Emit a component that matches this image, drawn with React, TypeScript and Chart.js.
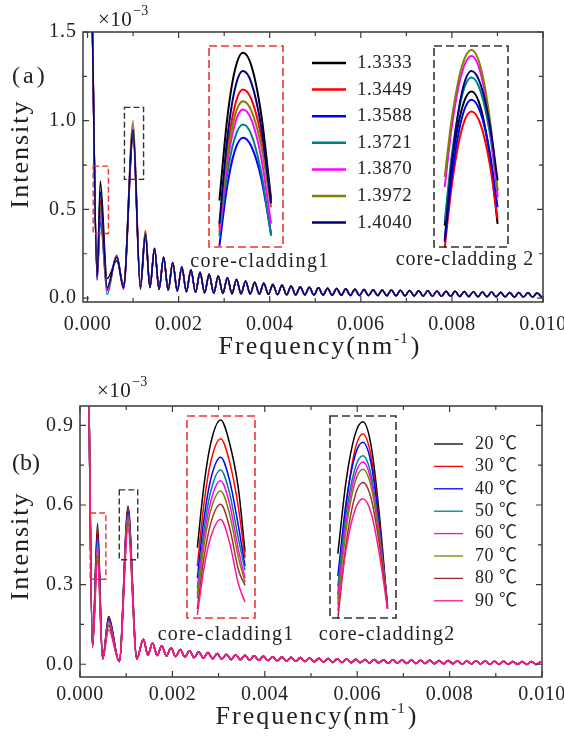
import React, { useEffect, useRef } from 'react';
import { Chart, registerables } from 'chart.js';
Chart.register(...registerables);

const SERIF = "'Liberation Serif', 'Times New Roman', serif";
const SERIF_CJK = "'Liberation Serif', 'Noto Sans CJK SC', serif";
const INK = '#222222';

// ---------------- Panel (a): refractive index ----------------
const riLabels = ['1.3333', '1.3449', '1.3588', '1.3721', '1.3870', '1.3972', '1.4040'];
const riColors = ['#000000', '#ff0000', '#0000ff', '#008080', '#ff00ff', '#808000', '#000080'];

const headFreqA = [0.0001, 0.00021, 0.00028, 0.00043, 0.00064, 0.00079, 0.001, 0.00116, 0.00127];
const headIntensityA = [
  [1.62, 0.13, 0.66, 0.11, 0.21, 0.08, 0.93, 0.05, 0.35], // 1.3333
  [1.62, 0.12, 0.55, 0.05, 0.23, 0.05, 0.90, 0.06, 0.36], // 1.3449
  [1.62, 0.10, 0.43, 0.05, 0.24, 0.06, 0.92, 0.07, 0.37], // 1.3588
  [1.62, 0.11, 0.47, 0.02, 0.24, 0.06, 0.94, 0.07, 0.37], // 1.3721
  [1.62, 0.11, 0.50, 0.04, 0.235, 0.06, 0.98, 0.07, 0.38], // 1.3870
  [1.62, 0.12, 0.52, 0.06, 0.23, 0.07, 1.00, 0.06, 0.38], // 1.3972
  [1.62, 0.12, 0.60, 0.06, 0.23, 0.06, 0.95, 0.06, 0.36], // 1.4040
];

const tailFreq = [
  0.00137, 0.00147, 0.00157, 0.00167, 0.00177, 0.00187, 0.00197, 0.00207, 0.00217, 0.00227,
  0.00237, 0.00247, 0.00257, 0.00267, 0.00277, 0.00287, 0.00297, 0.00307, 0.00317, 0.00327,
  0.00337, 0.00347, 0.00357, 0.00367, 0.00377, 0.00387, 0.00397, 0.00407, 0.00417, 0.00427,
  0.00437, 0.00447, 0.00457, 0.00467, 0.00477, 0.00487, 0.00497, 0.00507, 0.00517, 0.00527,
  0.00537, 0.00547, 0.00557, 0.00567, 0.00577, 0.00587, 0.00597, 0.00607, 0.00617, 0.00627,
  0.00637, 0.00647, 0.00657, 0.00667, 0.00677, 0.00687, 0.00697, 0.00707, 0.00717, 0.00727,
  0.00737, 0.00747, 0.00757, 0.00767, 0.00777, 0.00787, 0.00797, 0.00807, 0.00817, 0.00827,
  0.00837, 0.00847, 0.00857, 0.00867, 0.00877, 0.00887, 0.00897, 0.00907, 0.00917, 0.00927,
  0.00937, 0.00947, 0.00957, 0.00967, 0.00977, 0.00987, 0.00997,
];
const tailIntensityA = [
  0.06, 0.28, 0.05, 0.23, 0.045, 0.20, 0.04, 0.175, 0.036, 0.16, 0.033, 0.145, 0.03, 0.135, 0.028, 0.125, 0.026, 0.115, 0.025, 0.105,
  0.024, 0.097, 0.023, 0.09, 0.022, 0.083, 0.021, 0.077, 0.02, 0.072, 0.019, 0.068, 0.018, 0.064, 0.018, 0.061, 0.017, 0.058, 0.017, 0.056,
  0.016, 0.054, 0.016, 0.052, 0.015, 0.05, 0.015, 0.048, 0.014, 0.047, 0.014, 0.046, 0.013, 0.045, 0.013, 0.044, 0.012, 0.043, 0.012, 0.042,
  0.011, 0.041, 0.011, 0.04, 0.01, 0.039, 0.01, 0.038, 0.009, 0.037, 0.009, 0.036, 0.008, 0.035, 0.008, 0.034, 0.007, 0.033, 0.007, 0.032,
  0.006, 0.031, 0.006, 0.03, 0.006, 0.029, 0.005,
];

// insets of panel (a): values relative to the inset frame (0 = bottom, 1 = top)
const insetA1X = [0.15, 0.25, 0.35, 0.46, 0.57, 0.70, 0.83];
const insetA1Y = [
  [0.234, 0.628, 0.870, 0.962, 0.899, 0.659, 0.242],
  [0.10, 0.468, 0.695, 0.781, 0.733, 0.550, 0.233],
  [0.01, 0.298, 0.476, 0.543, 0.501, 0.344, 0.07],
  [0.06, 0.356, 0.539, 0.608, 0.559, 0.373, 0.06],
  [0.08, 0.406, 0.606, 0.682, 0.633, 0.445, 0.12],
  [0.11, 0.442, 0.646, 0.723, 0.677, 0.503, 0.20],
  [0.12, 0.527, 0.777, 0.872, 0.815, 0.597, 0.22],
];
const insetA2X = [0.154, 0.25, 0.38, 0.507, 0.63, 0.75, 0.85];
const insetA2Y = [
  [0.11, 0.421, 0.686, 0.771, 0.687, 0.445, 0.119],
  [0.0, 0.316, 0.585, 0.672, 0.604, 0.407, 0.143],
  [0.03, 0.359, 0.640, 0.730, 0.662, 0.465, 0.20],
  [0.13, 0.464, 0.748, 0.840, 0.768, 0.560, 0.28],
  [0.30, 0.604, 0.863, 0.946, 0.856, 0.598, 0.25],
  [0.35, 0.644, 0.894, 0.975, 0.886, 0.629, 0.283],
  [0.04, 0.431, 0.765, 0.872, 0.802, 0.602, 0.333],
];

// ---------------- Panel (b): temperature ----------------
const tempLabels = ['20 ℃', '30 ℃', '40 ℃', '50 ℃', '60 ℃', '70 ℃', '80 ℃', '90 ℃'];
const tempColors = ['#000000', '#ff0000', '#0000ff', '#008080', '#ff00ff', '#808000', '#993333', '#ff1493'];

const headFreqB = [0.00019, 0.00027, 0.00038, 0.00049, 0.00062, 0.00085, 0.00104, 0.00123];
const headIntensityB = [
  [1.05, 0.065, 0.53, 0.02, 0.18, 0.01, 0.595, 0.02],
  [1.05, 0.065, 0.51, 0.02, 0.175, 0.01, 0.585, 0.02],
  [1.05, 0.065, 0.49, 0.02, 0.17, 0.01, 0.575, 0.02],
  [1.05, 0.065, 0.47, 0.02, 0.165, 0.01, 0.565, 0.02],
  [1.05, 0.065, 0.45, 0.02, 0.16, 0.01, 0.555, 0.02],
  [1.05, 0.065, 0.43, 0.02, 0.15, 0.01, 0.545, 0.02],
  [1.05, 0.065, 0.41, 0.02, 0.145, 0.01, 0.53, 0.02],
  [1.05, 0.065, 0.39, 0.02, 0.13, 0.01, 0.51, 0.02],
];
const tailIntensityB = [
  0.094, 0.035, 0.08, 0.033, 0.07, 0.031, 0.062, 0.029, 0.056, 0.027, 0.051, 0.025, 0.047, 0.023, 0.044, 0.021, 0.041, 0.019, 0.038, 0.018,
  0.036, 0.017, 0.034, 0.016, 0.032, 0.015, 0.03, 0.014, 0.028, 0.013, 0.027, 0.012, 0.026, 0.011, 0.025, 0.01, 0.024, 0.009, 0.023, 0.008,
  0.022, 0.007, 0.021, 0.007, 0.02, 0.006, 0.019, 0.006, 0.018, 0.005, 0.018, 0.005, 0.017, 0.004, 0.017, 0.004, 0.016, 0.003, 0.016, 0.003,
  0.015, 0.003, 0.015, 0.002, 0.014, 0.002, 0.014, 0.002, 0.013, 0.001, 0.013, 0.001, 0.012, 0.001, 0.012, 0.0, 0.011, 0.0, 0.011, 0.0,
  0.01, 0.0, 0.01, -0.001, 0.01, -0.001, 0.009,
];

const insetB1X = [0.162, 0.25, 0.35, 0.495, 0.62, 0.75, 0.843];
const insetB1Y = [
  [0.35, 0.637, 0.856, 0.975, 0.865, 0.635, 0.33],
  [0.26, 0.546, 0.765, 0.884, 0.774, 0.544, 0.30],
  [0.20, 0.472, 0.680, 0.793, 0.683, 0.453, 0.26],
  [0.15, 0.417, 0.621, 0.731, 0.621, 0.391, 0.24],
  [0.12, 0.376, 0.572, 0.678, 0.568, 0.338, 0.20],
  [0.10, 0.342, 0.528, 0.628, 0.518, 0.300, 0.18],
  [0.05, 0.285, 0.465, 0.562, 0.452, 0.240, 0.165],
  [0.02, 0.235, 0.398, 0.488, 0.378, 0.170, 0.083],
];
const insetB2X = [0.13, 0.25, 0.38, 0.498, 0.62, 0.74, 0.86];
const insetB2Y = [
  [0.32, 0.673, 0.900, 0.967, 0.849, 0.513, 0.06],
  [0.12, 0.550, 0.826, 0.907, 0.796, 0.478, 0.05],
  [0.21, 0.568, 0.798, 0.866, 0.761, 0.463, 0.06],
  [0.16, 0.510, 0.734, 0.800, 0.704, 0.430, 0.06],
  [0.10, 0.466, 0.701, 0.770, 0.676, 0.410, 0.05],
  [0.07, 0.433, 0.666, 0.734, 0.648, 0.402, 0.07],
  [0.00, 0.365, 0.600, 0.669, 0.591, 0.369, 0.07],
  [0.04, 0.340, 0.533, 0.590, 0.520, 0.320, 0.05],
];

// ---------------- Axes ----------------
const xMajorTicks = [0, 0.002, 0.004, 0.006, 0.008, 0.01];
const xMinorTicks = [0.001, 0.003, 0.005, 0.007, 0.009];
const xTickLabels = ['0.000', '0.002', '0.004', '0.006', '0.008', '0.010'];
const yMajorA = [0, 0.5, 1.0, 1.5];
const yMinorA = [0.25, 0.75, 1.25];
const yLabelsA = ['0.0', '0.5', '1.0', '1.5'];
const yMajorB = [0, 0.3, 0.6, 0.9];
const yMinorB = [0.15, 0.45, 0.75];
const yLabelsB = ['0.0', '0.3', '0.6', '0.9'];

// zoom regions marked in the main plots (data coordinates)
const zoomBoxesA = [
  { x0: 0.000123, x1: 0.000458, y0: 0.364, y1: 0.744, color: '#ee3333' },
  { x0: 0.00081, x1: 0.00123, y0: 0.669, y1: 1.075, color: '#333333' },
];
const zoomBoxesB = [
  { x0: 0.00022, x1: 0.00056, y0: 0.32, y1: 0.57, color: '#ee3333' },
  { x0: 0.00085, x1: 0.00125, y0: 0.394, y1: 0.657, color: '#333333' },
];

function text(ctx: any, s: string, x: number, y: number, font: string, align: string = 'left', spacing = 0, baseline = 'middle') {
  ctx.save();
  ctx.font = font;
  ctx.fillStyle = INK;
  ctx.textAlign = align;
  ctx.textBaseline = baseline;
  ctx.letterSpacing = spacing + 'px';
  ctx.fillText(s, x, y);
  ctx.restore();
}

function panelPlugin(cfg: any) {
  return {
    id: 'panel',
    afterDatasetsDraw(chart: any) {
      const ctx = chart.ctx;
      const ca = chart.chartArea;
      const xs = chart.scales.x;
      const ys = chart.scales.y;
      ctx.save();
      // zoom boxes
      for (const b of cfg.boxes) {
        const px0 = xs.getPixelForValue(b.x0), px1 = xs.getPixelForValue(b.x1);
        const py0 = ys.getPixelForValue(b.y0), py1 = ys.getPixelForValue(b.y1);
        ctx.save();
        ctx.setLineDash([6, 3]);
        ctx.strokeStyle = b.color;
        ctx.lineWidth = 1.4;
        ctx.strokeRect(px0, py1, px1 - px0, py0 - py1);
        ctx.restore();
      }
      // frame
      ctx.strokeStyle = '#3a3a3a';
      ctx.lineWidth = 1.5;
      ctx.strokeRect(ca.left, ca.top, ca.right - ca.left, ca.bottom - ca.top);
      // ticks (inward, all four sides)
      ctx.lineWidth = 1.2;
      const tick = (vals: number[], len: number) => {
        for (const v of vals) {
          const px = xs.getPixelForValue(v);
          ctx.beginPath();
          ctx.moveTo(px, ca.bottom); ctx.lineTo(px, ca.bottom - len);
          ctx.moveTo(px, ca.top); ctx.lineTo(px, ca.top + len);
          ctx.stroke();
        }
      };
      const ytick = (vals: number[], len: number) => {
        for (const v of vals) {
          const py = ys.getPixelForValue(v);
          ctx.beginPath();
          ctx.moveTo(ca.left, py); ctx.lineTo(ca.left + len, py);
          ctx.moveTo(ca.right, py); ctx.lineTo(ca.right - len, py);
          ctx.stroke();
        }
      };
      tick(xMajorTicks, 6); tick(xMinorTicks, 4);
      ytick(cfg.yMajor, 6); ytick(cfg.yMinor, 4);
      ctx.restore();

      // tick labels
      xMajorTicks.forEach((v, i) => {
        text(ctx, xTickLabels[i], xs.getPixelForValue(v), ca.bottom + cfg.xLabelDy, `20px ${SERIF}`, 'center', 0.5);
      });
      cfg.yMajor.forEach((v: number, i: number) => {
        text(ctx, cfg.yLabels[i], ca.left - 6, ys.getPixelForValue(v), `20px ${SERIF}`, 'right', 1);
      });

      // exponent ×10^-3
      text(ctx, '×10', cfg.exp.x, cfg.exp.y, `21px ${SERIF}`, 'left', 0.5);
      ctx.save(); ctx.font = `21px ${SERIF}`; (ctx as any).letterSpacing = '0.5px';
      const wExp = ctx.measureText('×10').width; ctx.restore();
      text(ctx, '−3', cfg.exp.x + wExp + 1, cfg.exp.y - 9, `14px ${SERIF}`, 'left', 0);

      // panel tag
      text(ctx, cfg.tag.text, cfg.tag.x, cfg.tag.y, `24px ${SERIF}`, 'left', cfg.tag.spacing);

      // y title
      ctx.save();
      ctx.translate(cfg.yTitle.x, cfg.yTitle.y);
      ctx.rotate(-Math.PI / 2);
      text(ctx, 'Intensity', 0, 0, `26px ${SERIF}`, 'center', 2);
      ctx.restore();

      // x title with superscript
      ctx.save();
      const big = `26px ${SERIF}`, small = `15px ${SERIF}`;
      (ctx as any).letterSpacing = '2px';
      ctx.font = big; const wa = ctx.measureText('Frequency(nm').width;
      ctx.font = small; const ws = ctx.measureText('-1').width;
      ctx.font = big; const wc = ctx.measureText(')').width;
      ctx.restore();
      let tx = cfg.xTitle.x - (wa + ws + wc) / 2;
      text(ctx, 'Frequency(nm', tx, cfg.xTitle.y, big, 'left', 2, 'alphabetic'); tx += wa;
      text(ctx, '-1', tx, cfg.xTitle.y - 11, small, 'left', 1, 'alphabetic'); tx += ws;
      text(ctx, ')', tx, cfg.xTitle.y, big, 'left', 2, 'alphabetic');

      // inset captions
      for (const n of cfg.notes) text(ctx, n.text, n.x, n.y, `20px ${SERIF}`, 'center', n.sp);

      // legend
      const lg = cfg.legend;
      lg.labels.forEach((lab: string, i: number) => {
        const y = lg.y0 + lg.dy * i;
        ctx.save();
        ctx.strokeStyle = lg.colors[i];
        ctx.lineWidth = lg.lw;
        ctx.beginPath(); ctx.moveTo(lg.x0, y); ctx.lineTo(lg.x1, y); ctx.stroke();
        ctx.restore();
        text(ctx, lab, lg.tx, y, `${lg.size}px ${SERIF_CJK}`, 'left', 0.5);
      });
    },
  };
}

function buildMain(headX: number[], heads: number[][], tailY: number[], colors: string[], labels: string[]) {
  const n = heads.length;
  return labels.map((label, i) => ({
    label,
    data: headX.map((x, j) => ({ x, y: heads[i][j] })).concat(tailFreq.map((x, j) => ({ x, y: tailY[j] }))),
    borderColor: colors[i],
    backgroundColor: colors[i],
    borderWidth: 1.5,
    pointRadius: 0,
    fill: false,
    cubicInterpolationMode: 'monotone' as const,
    order: n - 1 - i,
  }));
}

function mainChart(canvas: HTMLCanvasElement, datasets: any[], xMin: number, xMax: number, yMin: number, yMax: number, padding: any, cfg: any) {
  return new Chart(canvas, {
    type: 'line',
    data: { datasets },
    options: {
      responsive: false,
      animation: false,
      events: [],
      layout: { padding },
      plugins: { legend: { display: false }, tooltip: { enabled: false } },
      scales: {
        x: { type: 'linear', min: xMin, max: xMax, display: false },
        y: { type: 'linear', min: yMin, max: yMax, display: false },
      },
    },
    plugins: [panelPlugin(cfg)],
  } as any);
}

function insetChart(canvas: HTMLCanvasElement, xs: number[], ys: number[][], colors: string[], lw: number, frameColor: string) {
  const n = ys.length;
  return new Chart(canvas, {
    type: 'line',
    data: {
      datasets: ys.map((row, i) => ({
        data: xs.map((x, j) => ({ x, y: row[j] })),
        borderColor: colors[i],
        borderWidth: lw,
        pointRadius: 0,
        fill: false,
        clip: false,
        cubicInterpolationMode: 'monotone',
        order: n - 1 - i,
      })),
    },
    options: {
      responsive: false,
      animation: false,
      events: [],
      layout: { padding: 0 },
      plugins: { legend: { display: false }, tooltip: { enabled: false } },
      scales: {
        x: { type: 'linear', min: 0, max: 1, display: false },
        y: { type: 'linear', min: 0, max: 1, display: false },
      },
    },
    plugins: [{
      id: 'insetFrame',
      afterDraw(chart: any) {
        const ctx = chart.ctx;
        ctx.save();
        ctx.setLineDash([8, 4]);
        ctx.strokeStyle = frameColor;
        ctx.lineWidth = 1.6;
        ctx.strokeRect(1, 1, chart.width - 2, chart.height - 2);
        ctx.restore();
      },
    }],
  } as any);
}

const cfgA = {
  yMajor: yMajorA, yMinor: yMinorA, yLabels: yLabelsA, xLabelDy: 23,
  boxes: zoomBoxesA,
  legend: { labels: riLabels, colors: riColors, x0: 312, x1: 346, tx: 357, y0: 63, dy: 26.6, lw: 2.5, size: 19 },
  tag: { text: '(a)', x: 12, y: 77, spacing: 3 },
  exp: { x: 98, y: 20 },
  yTitle: { x: 21, y: 154 },
  xTitle: { x: 320, y: 354 },
  notes: [{ text: 'core-cladding1', x: 260, y: 262, sp: 1.4 }, { text: 'core-cladding 2', x: 465, y: 260, sp: 0.9 }],
};
const cfgB = {
  yMajor: yMajorB, yMinor: yMinorB, yLabels: yLabelsB, xLabelDy: 18,
  boxes: zoomBoxesB,
  legend: { labels: tempLabels, colors: tempColors, x0: 434, x1: 463, tx: 475, y0: 79, dy: 22.4, lw: 1.3, size: 18 },
  tag: { text: '(b)', x: 12, y: 99, spacing: 0 },
  exp: { x: 97, y: 26 },
  yTitle: { x: 21, y: 181 },
  xTitle: { x: 317, y: 359 },
  notes: [{ text: 'core-cladding1', x: 226, y: 270, sp: 1.2 }, { text: 'core-cladding2', x: 387, y: 270, sp: 1.2 }],
};

const abs = (left: number, top: number, w: number, h: number): React.CSSProperties => ({
  position: 'absolute', left, top, width: w, height: h, display: 'block',
});

export default function App() {
  const refA = useRef<HTMLCanvasElement>(null);
  const refB = useRef<HTMLCanvasElement>(null);
  const refA1 = useRef<HTMLCanvasElement>(null);
  const refA2 = useRef<HTMLCanvasElement>(null);
  const refB1 = useRef<HTMLCanvasElement>(null);
  const refB2 = useRef<HTMLCanvasElement>(null);

  useEffect(() => {
    const charts: Chart[] = [];
    charts.push(mainChart(refA.current!, buildMain(headFreqA, headIntensityA, tailIntensityA, riColors, riLabels),
      -0.0001, 0.01, -0.022, 1.5, { left: 83, right: 21, top: 32, bottom: 63 }, cfgA));
    charts.push(mainChart(refB.current!, buildMain(headFreqB, headIntensityB, tailIntensityB, tempColors, tempLabels),
      0, 0.01, -0.048, 0.973, { left: 80, right: 22, top: 41, bottom: 61 }, cfgB));
    charts.push(insetChart(refA1.current!, insetA1X, insetA1Y, riColors, 2, '#ee3333'));
    charts.push(insetChart(refA2.current!, insetA2X, insetA2Y, riColors, 2, '#333333'));
    charts.push(insetChart(refB1.current!, insetB1X, insetB1Y, tempColors, 1.5, '#ee3333'));
    charts.push(insetChart(refB2.current!, insetB2X, insetB2Y, tempColors, 1.5, '#333333'));
    return () => charts.forEach((c) => c.destroy());
  }, []);

  return (
    <div style={{ position: 'fixed', left: 0, top: 0, width: 564, height: 738, background: '#ffffff' }}>
      <canvas ref={refA} width={564} height={365} style={abs(0, 0, 564, 365)} />
      <canvas ref={refB} width={564} height={373} style={abs(0, 365, 564, 373)} />
      <canvas ref={refA1} width={76} height={203} style={abs(208, 45, 76, 203)} />
      <canvas ref={refA2} width={76} height={203} style={abs(433, 45, 76, 203)} />
      <canvas ref={refB1} width={70} height={204} style={abs(186, 415, 70, 204)} />
      <canvas ref={refB2} width={68} height={204} style={abs(329, 415, 68, 204)} />
    </div>
  );
}
